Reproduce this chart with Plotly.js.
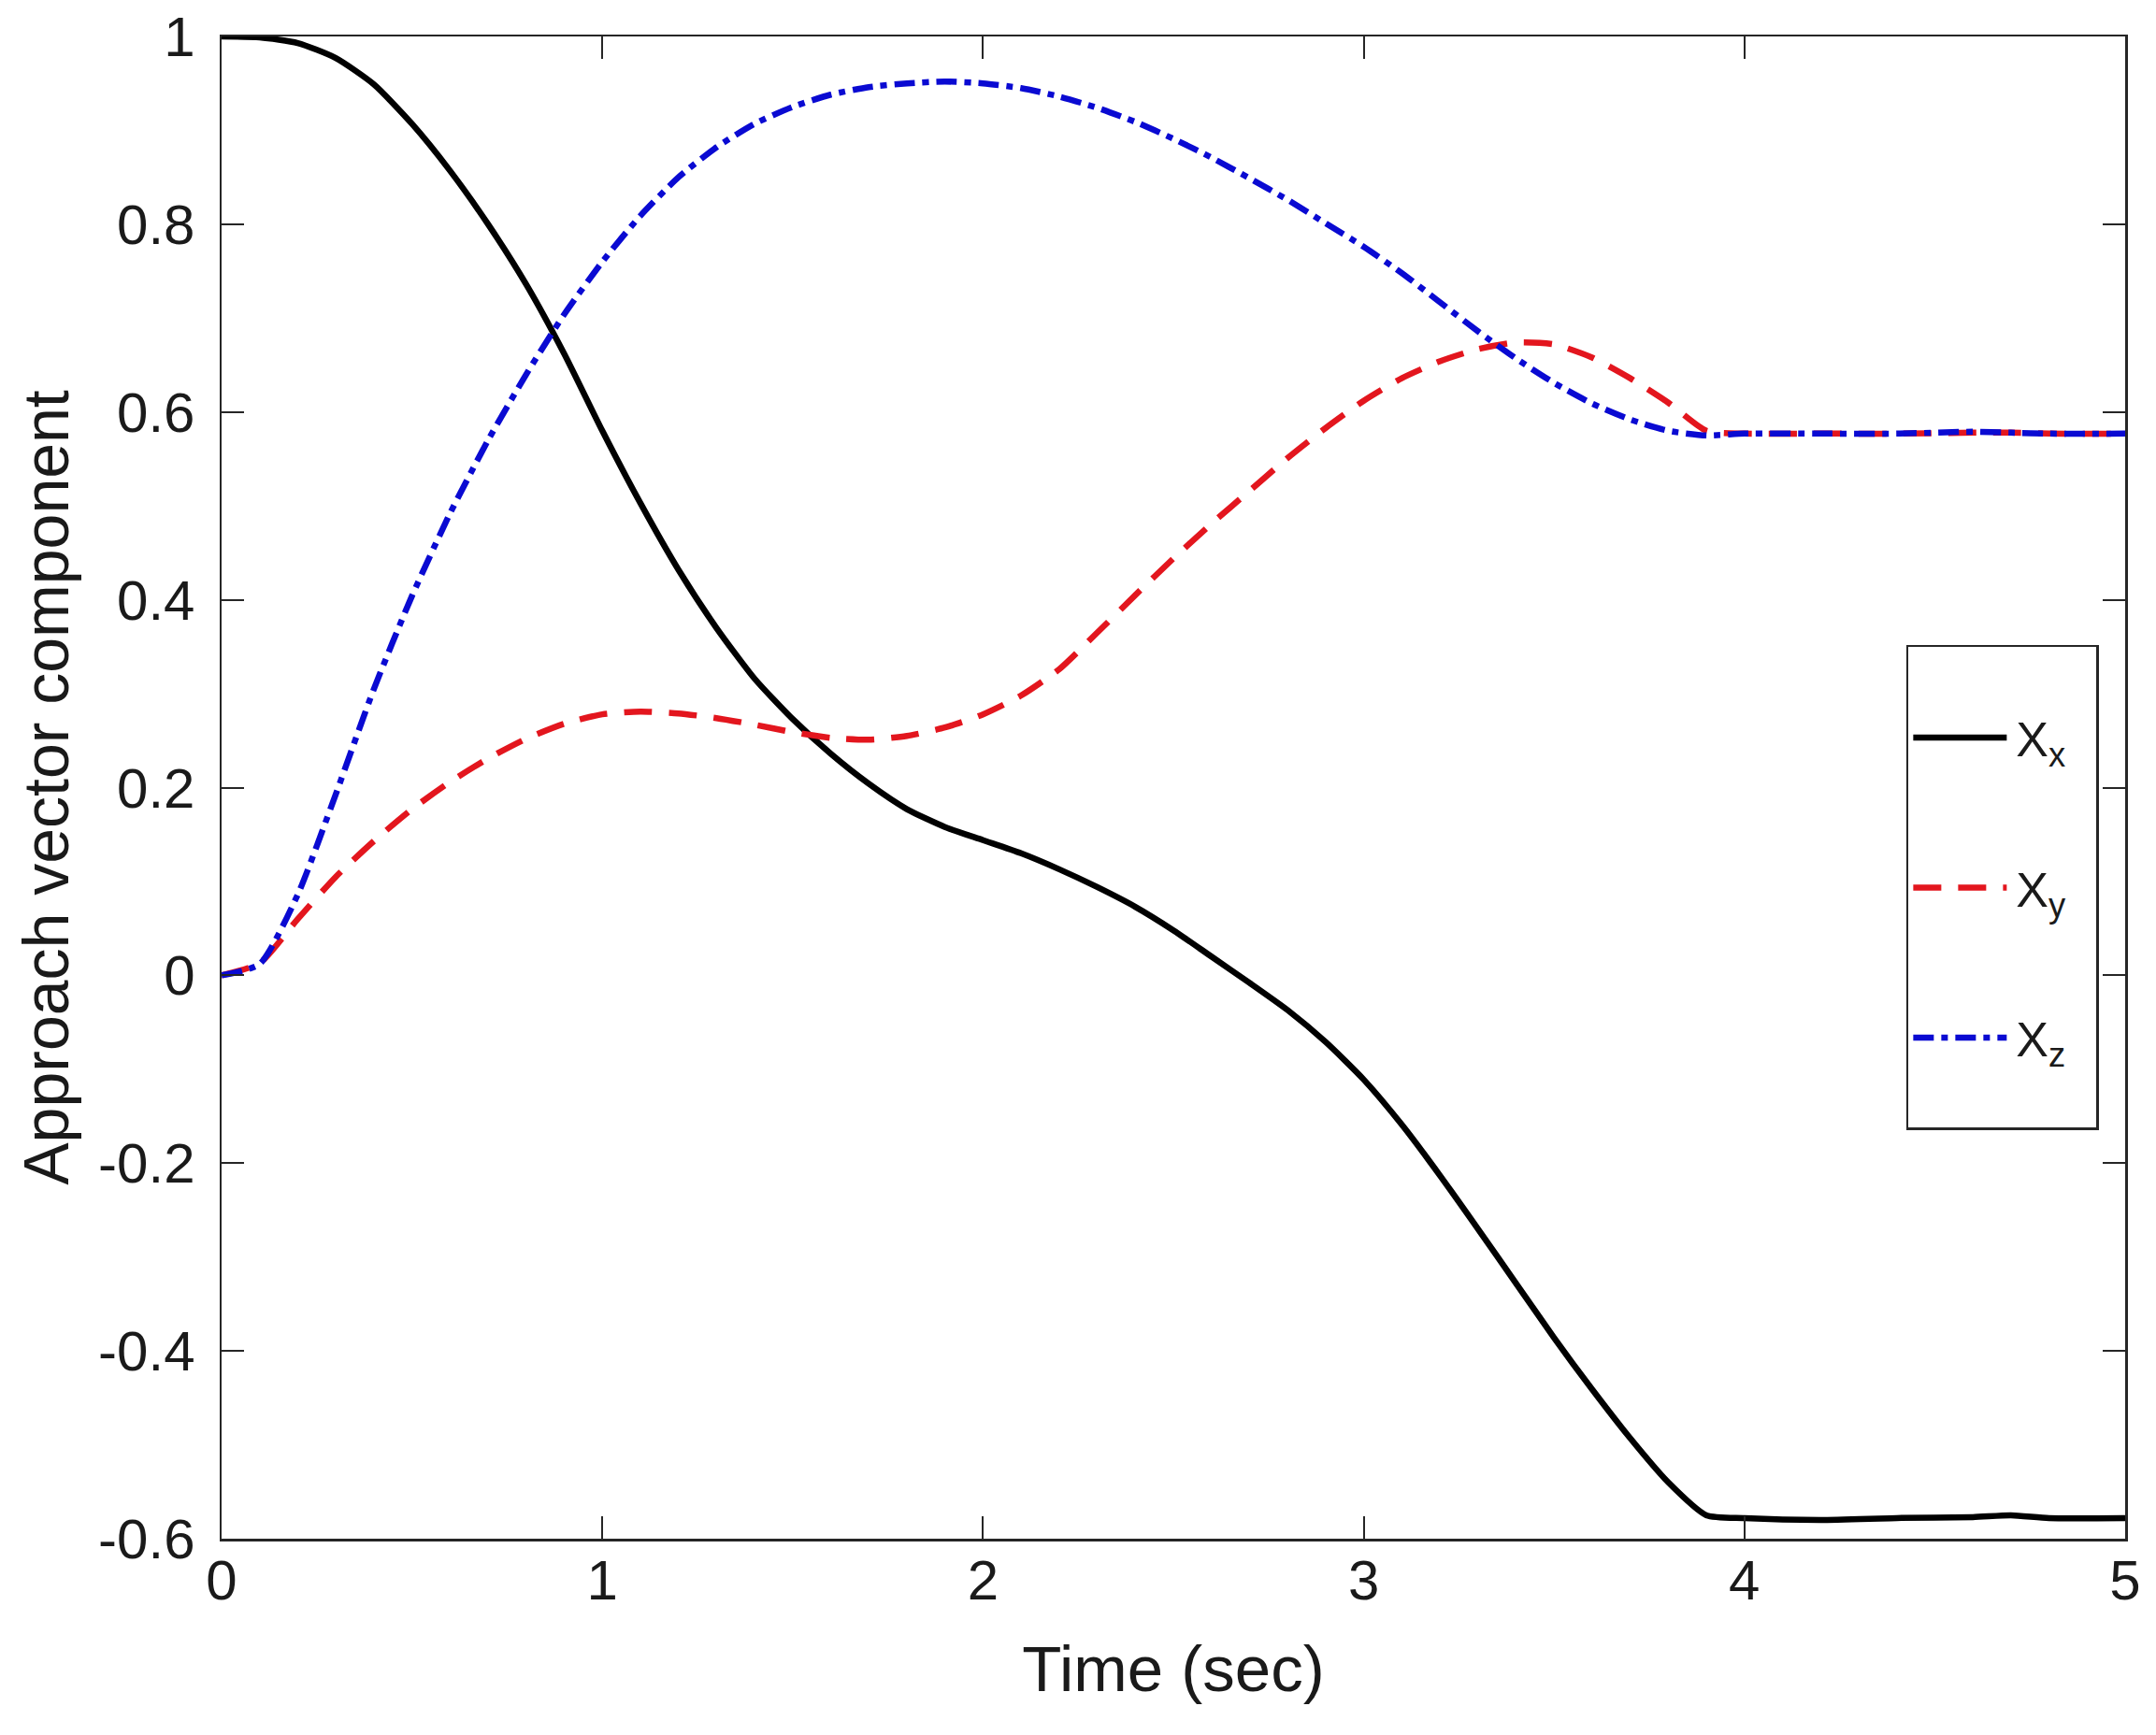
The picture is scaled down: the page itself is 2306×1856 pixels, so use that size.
<!DOCTYPE html>
<html>
<head>
<meta charset="utf-8">
<script src="https://cdn.plot.ly/plotly-3.0.1.min.js"></script>
<style>
  html, body { margin: 0; padding: 0; background: #fff; }
  #plot { width: 2306px; height: 1856px; }
</style>
</head>
<body>
<div id="plot"></div>
<script>
// time samples (sec)
var time = [0, 0.1, 0.2, 0.3, 0.4, 0.5, 0.6, 0.7, 0.8, 0.9,
            1.0, 1.1, 1.2, 1.3, 1.4, 1.5, 1.6, 1.7, 1.8, 1.9,
            2.0, 2.1, 2.2, 2.3, 2.4, 2.5, 2.6, 2.7, 2.8, 2.9,
            3.0, 3.1, 3.2, 3.3, 3.4, 3.5, 3.6, 3.7, 3.8, 3.9,
            4.0, 4.2, 4.4, 4.6, 4.7, 4.8, 5.0];

// approach vector components
var xComp = [1.000, 0.999, 0.993, 0.977, 0.949, 0.907, 0.857, 0.800, 0.736, 0.662,
             0.580, 0.503, 0.432, 0.370, 0.316, 0.273, 0.236, 0.204, 0.177, 0.158,
             0.144, 0.130, 0.113, 0.094, 0.073, 0.048, 0.020, -0.008, -0.037, -0.071,
             -0.111, -0.159, -0.213, -0.270, -0.328, -0.386, -0.441, -0.493, -0.540, -0.575,
             -0.578, -0.580, -0.578, -0.577, -0.575, -0.578, -0.578];

var yComp = [0.000, 0.013, 0.060, 0.105, 0.143, 0.177, 0.206, 0.231, 0.252, 0.268,
             0.278, 0.281, 0.279, 0.274, 0.267, 0.259, 0.253, 0.251, 0.255, 0.264,
             0.278, 0.298, 0.326, 0.365, 0.405, 0.444, 0.481, 0.516, 0.551, 0.583,
             0.612, 0.636, 0.654, 0.667, 0.674, 0.672, 0.658, 0.636, 0.610, 0.580,
             0.577, 0.577, 0.577, 0.578, 0.578, 0.577, 0.577];

var zComp = [0.000, 0.012, 0.086, 0.193, 0.305, 0.404, 0.492, 0.570, 0.640, 0.704,
             0.760, 0.809, 0.850, 0.882, 0.907, 0.925, 0.938, 0.946, 0.950, 0.952,
             0.950, 0.945, 0.936, 0.924, 0.909, 0.891, 0.871, 0.849, 0.826, 0.801,
             0.776, 0.748, 0.717, 0.686, 0.657, 0.631, 0.609, 0.592, 0.580, 0.575,
             0.577, 0.577, 0.577, 0.579, 0.578, 0.577, 0.577];

var seriesNames = ['X<sub>x</sub>', 'X<sub>y</sub>', 'X<sub>z</sub>'];

var yTickVals = [-0.6, -0.4, -0.2, 0, 0.2, 0.4, 0.6, 0.8, 1];
var yTickText = ['-0.6', '-0.4', '-0.2', '0', '0.2', '0.4', '0.6', '0.8', '1'];
var xTickVals = [0, 1, 2, 3, 4, 5];

var axisColor = '#262626';
var textColor = '#1a1a1a';
var fontFam = 'Liberation Sans, Arial, sans-serif';

var traces = [
  {x: time, y: xComp, name: seriesNames[0], legendgroup: 'a', type: 'scatter', mode: 'lines',
   line: {color: '#000000', width: 6.5, shape: 'spline', smoothing: 0.6}},
  {x: time, y: yComp, name: seriesNames[1], legendgroup: 'b', type: 'scatter', mode: 'lines',
   line: {color: '#e3161e', width: 6.5, dash: '30px,18px', shape: 'spline', smoothing: 0.6}},
  {x: time, y: zComp, name: seriesNames[2], legendgroup: 'c', type: 'scatter', mode: 'lines',
   line: {color: '#0a0ad2', width: 6.5, dash: '22px,8px,7px,8px', shape: 'spline', smoothing: 0.6}}
];

var layout = {
  width: 2306,
  height: 1856,
  margin: {l: 237, r: 33, t: 39, b: 210},
  paper_bgcolor: '#ffffff',
  plot_bgcolor: '#ffffff',
  font: {family: fontFam, color: textColor},
  showlegend: true,
  legend: {
    x: 0.885, y: 0.560, xanchor: 'left', yanchor: 'top',
    bgcolor: '#ffffff', bordercolor: axisColor, borderwidth: 2.5,
    font: {family: fontFam, size: 52, color: textColor},
    itemwidth: 105,
    tracegroupgap: 90
  },
  xaxis: {
    range: [0, 5],
    tickvals: xTickVals,
    ticks: 'inside', ticklen: 24, tickwidth: 2, tickcolor: axisColor,
    showline: true, linecolor: axisColor, linewidth: 2.5, mirror: 'ticks',
    showgrid: false, zeroline: false,
    ticklabelstandoff: -10,
    tickfont: {family: fontFam, size: 60, color: textColor},
    title: {text: 'Time (sec)', font: {family: fontFam, size: 69, color: textColor}, standoff: 38}
  },
  yaxis: {
    range: [-0.6, 1],
    tickvals: yTickVals, ticktext: yTickText,
    ticks: 'inside', ticklen: 24, tickwidth: 2, tickcolor: axisColor,
    showline: true, linecolor: axisColor, linewidth: 2.5, mirror: 'ticks',
    showgrid: false, zeroline: false,
    ticklabelstandoff: 14,
    tickfont: {family: fontFam, size: 60, color: textColor},
    title: {text: 'Approach vector component', font: {family: fontFam, size: 68, color: textColor}, standoff: 10}
  }
};

Plotly.newPlot('plot', traces, layout, {displayModeBar: false, staticPlot: true}).then(function (gd) {
  // longer key lines, like the original figure's legend
  var keys = gd.querySelectorAll('.legend path.js-line');
  for (var i = 0; i < keys.length; i++) {
    keys[i].setAttribute('d', 'M5,0h100');
  }
  // extra padding around the legend entries
  var bg = gd.querySelector('.legend rect.bg');
  if (bg) {
    var h = parseFloat(bg.getAttribute('height'));
    var w = parseFloat(bg.getAttribute('width'));
    bg.setAttribute('y', -55);
    bg.setAttribute('height', h + 112);
    bg.setAttribute('width', w + 27);
  }
});
</script>
</body>
</html>
